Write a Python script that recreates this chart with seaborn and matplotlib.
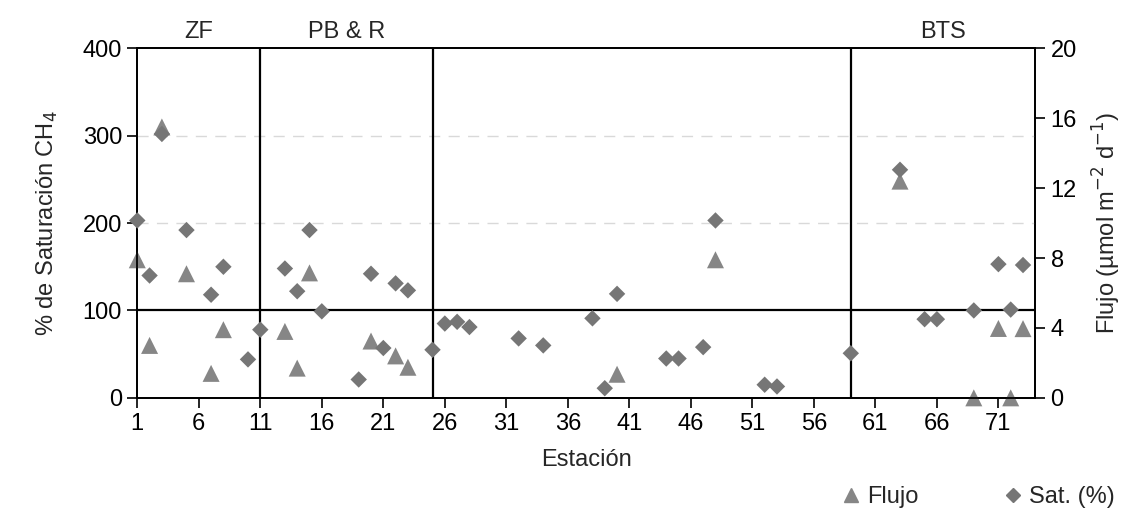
import matplotlib
matplotlib.use("Agg")
import matplotlib.pyplot as plt
import seaborn as sns
import pandas as pd
from matplotlib.lines import Line2D

# ---- data ----
sat_station = [1, 2, 3, 5, 7, 8, 10, 11, 13, 14, 15, 16, 19, 20, 21, 22, 23, 25,
               26, 27, 28, 32, 34, 38, 39, 40, 44, 45, 47, 48, 52, 53, 59, 63,
               65, 66, 69, 71, 72, 73]
sat_pct = [203, 140, 302, 192, 118, 150, 44, 78, 148, 122, 192, 99, 21, 142, 57, 131, 123, 55,
           85, 87, 81, 68, 60, 91, 11, 119, 45, 45, 58, 203, 15, 13, 51, 261,
           90, 90, 100, 153, 101, 152]

flujo_station = [1, 2, 3, 5, 7, 8, 13, 14, 15, 20, 22, 23, 40, 48, 63, 69, 71, 72, 73]
flujo_val = [7.9, 3.0, 15.5, 7.1, 1.4, 3.9, 3.8, 1.7, 7.15, 3.25, 2.4, 1.75, 1.35, 7.9,
             12.4, 0.0, 3.97, 0.0, 3.96]

x_ticks = list(range(1, 72, 5))
sat_ticks = [0, 100, 200, 300, 400]
flujo_ticks = [0, 4, 8, 12, 16, 20]
zone_bounds = [11, 25, 59]
zone_labels = ["ZF", "PB & R", "BTS"]
zone_label_x = [6, 18, 66.5]
saturation_ref = 100

sat_df = pd.DataFrame({"Estacion": sat_station, "Sat": sat_pct})
flujo_df = pd.DataFrame({"Estacion": flujo_station, "Flujo": flujo_val})

# ---- style ----
sns.set_theme(style="white")
plt.rcParams["font.family"] = ["Liberation Sans", "DejaVu Sans"]
FS = 17
dia_color = "#767676"
tri_color = "#868686"

fig = plt.figure(figsize=(11.44, 5.14), dpi=100)
ax = fig.add_axes([0.12, 0.226, 0.785, 0.68])
ax2 = ax.twinx()

# flux (triangles) on the right axis
sns.scatterplot(data=flujo_df, x="Estacion", y="Flujo", ax=ax2, marker="^", s=150,
                color=tri_color, edgecolor="none", linewidth=0, legend=False,
                zorder=3, clip_on=False)
# saturation (diamonds) on the left axis
sns.scatterplot(data=sat_df, x="Estacion", y="Sat", ax=ax, marker="D", s=70,
                color=dia_color, edgecolor="none", linewidth=0, legend=False,
                zorder=4, clip_on=False)

ax.set_zorder(ax2.get_zorder() + 1)
ax.patch.set_visible(False)

ax.set_xlim(1, 74)
ax.set_ylim(0, 400)
ax2.set_ylim(0, 20)

# grid lines (faint dashed) and reference/zone lines
for v in [200, 300]:
    ax.axhline(v, color="#d9d9d9", lw=1.0, ls=(0, (8, 6)), zorder=0)
ax.axhline(saturation_ref, color="black", lw=1.6, zorder=2)
for b in zone_bounds:
    ax.axvline(b, color="black", lw=1.6, zorder=2)

for xl, lab in zip(zone_label_x, zone_labels):
    ax.text(xl, 1.015, lab, transform=ax.get_xaxis_transform(), ha="center",
            va="bottom", fontsize=FS)

ax.set_xticks(x_ticks)
ax.set_yticks(sat_ticks)
ax2.set_yticks(flujo_ticks)
ax.tick_params(axis="both", direction="out", length=7, width=1.2, labelsize=FS,
               colors="black", left=True, bottom=True, pad=4)
ax2.tick_params(axis="y", direction="out", length=7, width=1.2, labelsize=FS,
                colors="black", right=True, pad=4)
ax.grid(False)
ax2.grid(False)

for a in (ax, ax2):
    for sp in a.spines.values():
        sp.set_visible(True)
        sp.set_color("black")
        sp.set_linewidth(1.3)

ax.set_xlabel("Estación", fontsize=FS, labelpad=10)
ax.set_ylabel("% de Saturación CH$_4$", fontsize=FS, labelpad=16)
ax2.set_ylabel("Flujo (µmol m$^{-2}$ d$^{-1}$)", fontsize=FS, labelpad=10)

handles = [
    Line2D([], [], marker="^", ls="none", color=tri_color, markersize=10, label="Flujo"),
    Line2D([], [], marker="D", ls="none", color=dia_color, markersize=7, label="Sat. (%)"),
]
fig.legend(handles=handles, loc="center", bbox_to_anchor=(0.855, 0.033), ncol=2,
           frameon=False, fontsize=FS, handlelength=0.8, handletextpad=0.3,
           columnspacing=3.6, borderaxespad=0)

fig.savefig("out.png", dpi=100)
